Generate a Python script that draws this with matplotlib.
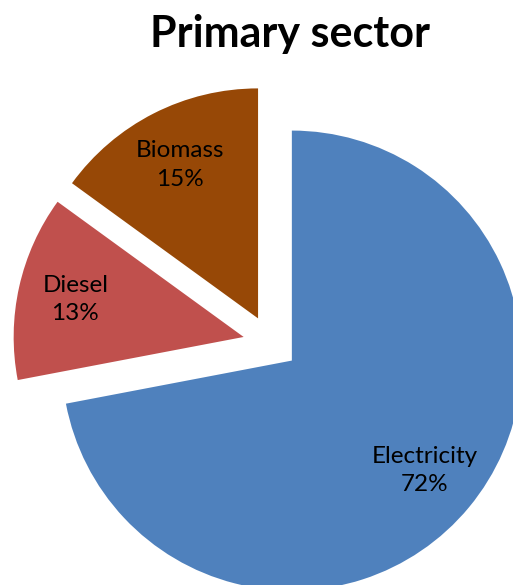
import matplotlib.pyplot as plt

names = ['Electricity', 'Diesel', 'Biomass']
shares = [72, 13, 15]
colors = ['#4F81BD', '#C0504D', '#974806']

plt.rcParams['font.family'] = ['Lato', 'DejaVu Sans']

fig = plt.figure(figsize=(5.13, 5.85), dpi=100)
ax = fig.add_axes([0, 0, 1, 1])

labels = [f'{n}\n{v}%' for n, v in zip(names, shares)]
wedges, texts = ax.pie(shares, labels=labels, colors=colors, startangle=90,
                       counterclock=False, explode=[0.12] * 3,
                       labeldistance=0.75, radius=1.0)
for t in texts:
    t.set_ha('center')
    t.set_va('center')
    t.set_fontsize(17.5)
    t.set_linespacing(1.45)

ax.set_aspect('equal')
ax.set_xlim(-1.1765, 1.054)
ax.set_ylim(-1.052, 1.491)
ax.axis('off')

fig.text(0.565, 0.9197, 'Primary sector', ha='center', va='baseline',
         fontsize=31, fontweight='bold')

fig.savefig('out.png', dpi=100)
